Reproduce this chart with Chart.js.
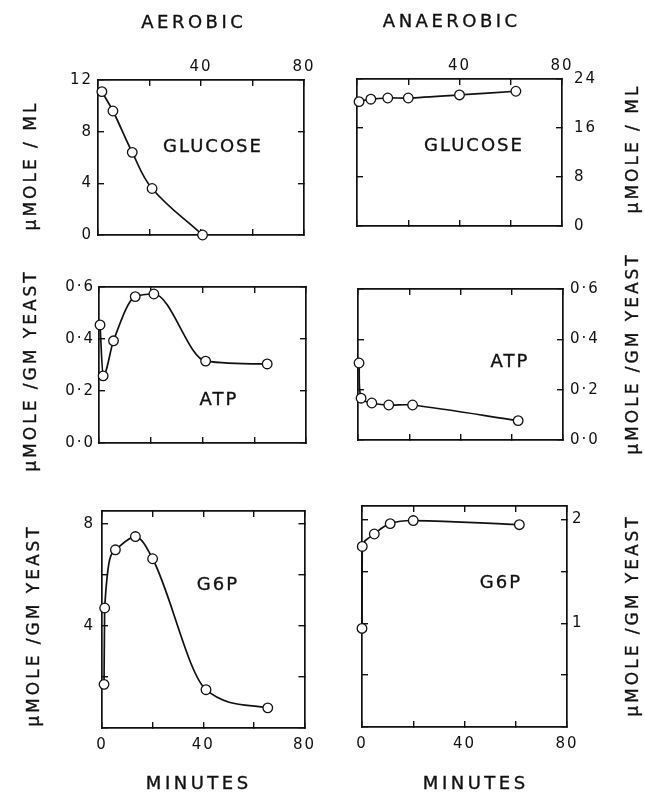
<!DOCTYPE html>
<html><head><meta charset="utf-8">
<script src="https://cdn.jsdelivr.net/npm/chart.js@4"></script>
<style>
html,body{margin:0;padding:0;background:#fff;}
#wrap{position:relative;width:645px;height:795px;overflow:hidden;background:#fff;}
canvas{position:absolute;}
.t{position:absolute;font-family:'DejaVu Sans',sans-serif;color:#111;white-space:nowrap;transform:translate(-50%,-50%);line-height:1;-webkit-text-stroke:0.35px #111;}
.rot{transform:translate(-50%,-50%) rotate(-90deg);}
</style></head><body><div id="wrap"></div>
<script>
// ---- data ----
const xTickValues = [0, 20, 40, 60, 80];
const xTopTickLabels = ['', '', '40', '', '80'];
const xBottomTickLabels = ['0', '', '40', '', '80'];
const xNoLabels = ['', '', '', '', ''];

const aeroGlucoseMin = [1.5, 5.8, 13.3, 21.0, 40.6];
const aeroGlucose = [11.1, 9.6, 6.4, 3.6, 0.0];
const anaeroGlucoseMin = [0.8, 5.4, 12.0, 20.0, 40.0, 62.0];
const anaeroGlucose = [20.3, 20.7, 20.9, 20.9, 21.4, 22.0];
const glucoseAeroTicks = [0, 4, 8, 12];
const glucoseAeroTickLabels = ['0', '4', '8', '12'];
const glucoseAnaeroTicks = [0, 8, 16, 24];
const glucoseAnaeroTickLabels = ['0', '8', '16', '24'];

const aeroAtpMin = [0.4, 1.6, 5.6, 14.0, 21.2, 41.2, 65.0];
const aeroAtp = [0.454, 0.258, 0.393, 0.563, 0.573, 0.315, 0.304];
const anaeroAtpMin = [0.4, 1.2, 5.4, 12.0, 21.3, 62.5];
const anaeroAtp = [0.306, 0.166, 0.147, 0.139, 0.139, 0.077];
const atpTicks = [0, 0.2, 0.4, 0.6];
const atpTickLabels = ['0·0', '0·2', '0·4', '0·6'];

const aeroG6pMin = [0.8, 1.05, 5.3, 13.2, 20.0, 41.1, 65.5];
const aeroG6p = [1.71, 4.70, 6.98, 7.50, 6.63, 1.50, 0.79];
const anaeroG6pMin = [0.0, 0.1, 4.8, 11.0, 20.0, 61.4];
const anaeroG6p = [0.95, 1.74, 1.86, 1.96, 1.99, 1.95];
const g6pAeroTicks = [0, 2, 4, 6, 8];
const g6pAeroTickLabels = ['', '', '4', '', '8'];
const g6pAnaeroTicks = [0, 0.5, 1, 1.5, 2];
const g6pAnaeroTickLabels = ['', '', '1', '', '2'];

// ---- drawing ----
const INK = '#111';
const wrap = document.getElementById('wrap');

function addText(txt, cx, cy, size, ls, rot) {
  const d = document.createElement('div');
  d.className = 't' + (rot ? ' rot' : '');
  d.textContent = txt;
  d.style.left = cx + 'px'; d.style.top = cy + 'px';
  d.style.fontSize = size + 'px';
  d.style.letterSpacing = ls + 'px';
  d.style.paddingLeft = ls + 'px';
  wrap.appendChild(d);
}

const spacing = { id: 'spacing', beforeDraw(c) { c.ctx.letterSpacing = '2px'; } };

function makePanel(rect, xs, ys, o) {
  const P = 20;
  const leftSize = o.ySide === 'left' ? 45 : 0;
  const rightSize = o.ySide === 'right' ? 45 : 0;
  const topSize = o.xTop.some(s => s) ? 30 : 0;
  const bottomSize = o.xBottom.some(s => s) ? 30 : 0;
  const W = rect.R - rect.L, H = rect.B - rect.T;
  const cv = document.createElement('canvas');
  cv.width = W + 2 * P + leftSize + rightSize;
  cv.height = H + 2 * P + topSize + bottomSize;
  cv.style.left = (rect.L - P - leftSize) + 'px';
  cv.style.top = (rect.T - P - topSize) + 'px';
  wrap.appendChild(cv);
  const grid = { drawOnChartArea: false, drawTicks: true, tickLength: -6, color: INK, lineWidth: 1.4 };
  const border = { display: true, color: INK, width: 1.7 };
  const font = { family: 'DejaVu Sans', size: 15 };
  const xAxis = (pos, labels, size, pad) => ({
    type: 'linear', axis: 'x', position: pos, min: 0, max: 80,
    afterBuildTicks: s => { s.ticks = xTickValues.map(v => ({ value: v })); },
    afterFit: s => { s.height = size; },
    grid, border,
    ticks: { font, color: INK, padding: pad, maxRotation: 0, autoSkip: false,
      callback: v => labels[xTickValues.indexOf(v)] || '' }
  });
  const yAxis = (pos, labeled, size) => ({
    type: 'linear', axis: 'y', position: pos, min: o.yMin, max: o.yMax,
    afterBuildTicks: s => { s.ticks = o.yTicks.map(v => ({ value: v })); },
    afterFit: s => { s.width = size; },
    grid, border,
    ticks: { font, color: INK, padding: o.yPad, autoSkip: false,
      callback: v => labeled ? (o.yLabels[o.yTicks.indexOf(v)] || '') : '' }
  });
  const other = o.ySide === 'left' ? 'right' : 'left';
  new Chart(cv, {
    type: 'line',
    data: { datasets: [{
      data: xs.map((x, i) => ({ x, y: ys[i] })),
      borderColor: INK, borderWidth: 1.7, tension: o.tension,
      cubicInterpolationMode: o.mode || 'default',
      pointRadius: 4.8, pointBorderWidth: 1.3, pointBackgroundColor: '#fff', pointBorderColor: INK,
      clip: false, fill: false
    }] },
    options: {
      responsive: false, animation: false, devicePixelRatio: 1,
      layout: { padding: P },
      plugins: { legend: { display: false }, tooltip: { enabled: false } },
      scales: {
        x: xAxis('bottom', o.xBottom, bottomSize, 14),
        x2: xAxis('top', o.xTop, topSize, 10),
        y: yAxis(o.ySide, true, o.ySide === 'left' ? leftSize : rightSize),
        y2: yAxis(other, false, 0)
      }
    },
    plugins: [spacing]
  });
}

// Aerobic glucose
makePanel({ L: 98, R: 304, T: 80, B: 235 }, aeroGlucoseMin, aeroGlucose,
  { ySide: 'left', yMin: 0, yMax: 12, yTicks: glucoseAeroTicks, yLabels: glucoseAeroTickLabels,
    yPad: 11, xTop: xTopTickLabels, xBottom: xNoLabels, tension: 0.4 });
// Anaerobic glucose
makePanel({ L: 357, R: 562, T: 79, B: 233 }, anaeroGlucoseMin, anaeroGlucose,
  { ySide: 'right', yMin: 0, yMax: 24, yTicks: glucoseAnaeroTicks, yLabels: glucoseAnaeroTickLabels,
    yPad: 18, xTop: xTopTickLabels, xBottom: xNoLabels, tension: 0.2 });
// Aerobic ATP
makePanel({ L: 99, R: 306, T: 287, B: 443 }, aeroAtpMin, aeroAtp,
  { ySide: 'left', yMin: 0, yMax: 0.6, yTicks: atpTicks, yLabels: atpTickLabels,
    yPad: 10, xTop: xNoLabels, xBottom: xNoLabels, tension: 0.4, mode: 'monotone' });
// Anaerobic ATP
makePanel({ L: 358, R: 563, T: 287, B: 442 }, anaeroAtpMin, anaeroAtp,
  { ySide: 'right', yMin: 0, yMax: 0.6, yTicks: atpTicks, yLabels: atpTickLabels,
    yPad: 13, xTop: xNoLabels, xBottom: xNoLabels, tension: 0.3 });
// Aerobic G6P
makePanel({ L: 102, R: 308, T: 509, B: 728 }, aeroG6pMin, aeroG6p,
  { ySide: 'left', yMin: 0, yMax: 8.5, yTicks: g6pAeroTicks, yLabels: g6pAeroTickLabels,
    yPad: 13, xTop: xNoLabels, xBottom: xBottomTickLabels, tension: 0.4, mode: 'monotone' });
// Anaerobic G6P
makePanel({ L: 362, R: 567, T: 506, B: 727 }, anaeroG6pMin, anaeroG6p,
  { ySide: 'right', yMin: 0, yMax: 2.13, yTicks: g6pAnaeroTicks, yLabels: g6pAnaeroTickLabels,
    yPad: 11, xTop: xNoLabels, xBottom: xBottomTickLabels, tension: 0.4 });

// texts
addText('AEROBIC', 192, 22, 18, 3.5);
addText('ANAEROBIC', 450, 21, 18, 3.5);
addText('GLUCOSE', 212, 146, 18, 2);
addText('GLUCOSE', 473, 145, 18, 2);
addText('ATP', 218, 399, 18, 2);
addText('ATP', 509, 361, 18, 2);
addText('G6P', 217, 584, 18, 2);
addText('G6P', 500, 582, 18, 2);
addText('MINUTES', 197, 783, 18, 3.5);
addText('MINUTES', 474, 783, 18, 3.5);
addText('μMOLE / ML', 30, 167, 17, 3, true);
addText('μMOLE /GM YEAST', 30, 372, 17, 3, true);
addText('μMOLE /GM YEAST', 33, 627, 17, 3, true);
addText('μMOLE / ML', 632, 150, 17, 3, true);
addText('μMOLE /GM YEAST', 632, 355, 17, 3, true);
addText('μMOLE /GM YEAST', 632, 617, 17, 3, true);
</script></body></html>
